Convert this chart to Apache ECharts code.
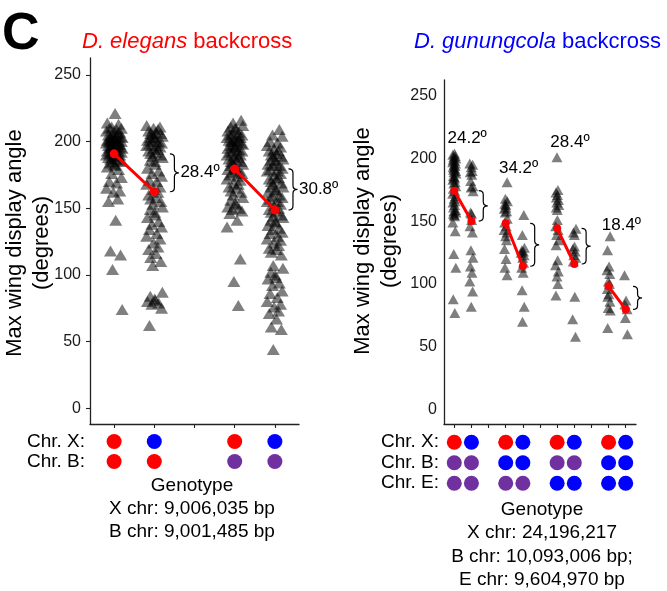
<!DOCTYPE html>
<html>
<head>
<meta charset="utf-8">
<script src="https://cdn.jsdelivr.net/npm/echarts@6/dist/echarts.min.js"></script>
<style>
  html, body { margin: 0; padding: 0; background: #fff; }
  #chart { width: 667px; height: 591px; }
</style>
</head>
<body>
<div id="chart"></div>
<script>
// ---- values ----
// D. elegans backcross: genotype slots 0, 1, 3, 4 (slot 2 is empty)
const elegansGroups = [0, 1, 3, 4];
const elegans0 = [221, 214, 213, 211, 210, 210, 209, 208, 207, 207, 206, 205, 205, 204, 204, 203, 203, 202, 202, 202,
  201, 201, 200, 200, 200, 199, 199, 198, 198, 198, 197, 197, 196, 196, 196, 195, 195, 194, 194, 193, 193, 192, 192,
  191, 191, 190, 190, 189, 189, 188, 187, 187, 186, 185, 185, 184, 183, 182, 181, 179, 176, 173, 170, 169, 165, 163,
  162, 157, 155, 141, 118, 115, 104, 74];
const elegans1 = [212, 211, 210, 209, 208, 207, 206, 206, 205, 204, 203, 203, 202, 201, 200, 200, 199, 198, 197, 197,
  196, 195, 194, 193, 192, 191, 190, 189, 188, 186, 185, 183, 180, 178, 176, 174, 171, 170, 168, 166, 164, 162, 160,
  158, 157, 155, 153, 151, 149, 147, 145, 143, 140, 138, 136, 134, 131, 129, 127, 124, 121, 119, 116, 113, 110, 107,
  87, 84, 82, 81, 80, 79, 78, 75, 62];
const elegans3 = [216, 214, 212, 211, 210, 209, 208, 207, 206, 205, 205, 204, 203, 203, 202, 201, 201, 200, 200, 199,
  198, 198, 197, 196, 196, 195, 194, 193, 193, 192, 191, 190, 190, 189, 188, 187, 186, 185, 185, 184, 183, 182, 181,
  180, 179, 178, 177, 176, 175, 174, 172, 171, 169, 168, 166, 165, 163, 162, 160, 158, 156, 154, 153, 151, 150, 149,
  148, 146, 141, 136, 112, 95, 77];
const elegans4 = [209, 205, 204, 200, 199, 197, 196, 194, 193, 193, 191, 190, 189, 189, 187, 186, 186, 184, 183, 182,
  182, 180, 179, 178, 178, 176, 175, 173, 172, 172, 170, 169, 168, 166, 166, 164, 163, 162, 160, 159, 158, 157, 155,
  155, 153, 152, 150, 149, 148, 147, 145, 144, 143, 141, 140, 139, 137, 135, 134, 132, 131, 129, 127, 126, 124, 122,
  120, 119, 117, 115, 107, 105, 102, 100, 98, 97, 94, 92, 88, 86, 83, 80, 78, 76, 73, 71, 67, 61, 59, 44];
const elegansMeans = [190.8, 162.4, 179.5, 148.7];
const elegansDiffs = ['28.4º', '30.8º'];
// genotype codes: E = elegans (red), G = gunungcola (blue), H = heterozygous (purple)
const elegansChrX = ['E', 'G', 'E', 'G'];
const elegansChrB = ['E', 'E', 'H', 'H'];

// D. gunungcola backcross: slots 0,1 3,4 6,7 9,10
const gunungGroups = [0, 1, 3, 4, 6, 7, 9, 10];
const gunung0 = [204, 203, 202, 201, 200, 199, 198, 197, 196, 195, 194, 193, 192, 191, 190, 189, 188, 186, 185, 184,
  183, 181, 180, 178, 176, 174, 172, 170, 168, 166, 165, 163, 161, 159, 158, 157, 156, 155, 154, 149, 142, 124, 113, 88, 77];
const gunung1 = [196, 195, 193, 190, 189, 187, 182, 178, 177, 174, 157, 156, 151, 146, 141, 127, 121, 114, 109, 102, 94, 82];
const gunung3 = [181, 168, 166, 164, 163, 161, 160, 158, 157, 152, 149, 146, 143, 141, 138, 135, 128, 120, 113, 107];
const gunung4 = [155, 139, 129, 127, 126, 125, 123, 121, 117, 113, 109, 95, 82, 70];
const gunung6 = [201, 175, 173, 171, 169, 167, 165, 163, 161, 159, 151, 146, 143, 139, 135, 131, 119, 115, 110, 106, 100, 91];
const gunung7 = [144, 141, 139, 130, 128, 126, 123, 121, 118, 90, 72, 58];
const gunung9 = [138, 127, 114, 111, 108, 102, 100, 96, 92, 90, 86, 81, 79, 65];
const gunung10 = [107, 87, 84, 80, 73, 60];
const gunungMeans = [174.4, 150.2, 148.4, 114.2, 144.4, 116.0, 98.2, 79.8];
const gunungDiffs = ['24.2º', '34.2º', '28.4º', '18.4º'];
const gunungChrX = ['E', 'G', 'E', 'G', 'E', 'G', 'E', 'G'];
const gunungChrB = ['H', 'H', 'G', 'G', 'H', 'H', 'G', 'G'];
const gunungChrE = ['H', 'H', 'H', 'H', 'G', 'G', 'G', 'G'];

const yTicks = [0, 50, 100, 150, 200, 250];

// ---- styling / layout ----
const FONT = 'Liberation Sans, Arial, sans-serif';
const RED = '#ff0000', BLUE = '#0000ff', PURPLE = '#7030a0';
const GENO_COLOR = { E: RED, G: BLUE, H: PURPLE };
// fixed jitter pattern (spread of the points around their slot)
const JITTER = [0.12, -0.85, 0.55, -0.3, 0.9, -0.6, 0.3, -0.95, 0.7, -0.1, 0.45, -0.7, 0.2, -0.45, 0.8, -0.2, 1.0, -0.5, 0.05];
const GUN_LABEL_Y = [216, 192, 212.5, 147];

function jittered(groups, values, width) {
  const out = [];
  groups.forEach((g, gi) => {
    values[gi].forEach((v, i) => {
      out.push([g + width * JITTER[(i + gi * 7) % JITTER.length], v]);
    });
  });
  return out;
}

function genoDots(groups, rows) {
  const out = [];
  rows.forEach((row, r) => row.forEach((code, i) => out.push([groups[i], r, code])));
  return out;
}

function braceRender(labels) {
  return function (params, api) {
    const a = api.coord([api.value(0), api.value(1)]);
    const b = api.coord([api.value(0), api.value(2)]);
    const px = a[0];
    const y1 = Math.min(a[1], b[1]), y2 = Math.max(a[1], b[1]);
    const ym = (y1 + y2) / 2, r = 4, hook = 4.5, tip = 4.5;
    const d = `M${px - hook} ${y1} Q${px} ${y1} ${px} ${y1 + r} L${px} ${ym - r} Q${px} ${ym} ${px + tip} ${ym} ` +
      `Q${px} ${ym} ${px} ${ym + r} L${px} ${y2 - r} Q${px} ${y2} ${px - hook} ${y2}`;
    const children = [{
      type: 'path',
      shape: { pathData: d },
      style: { stroke: '#000', fill: null, lineWidth: 1.2 }
    }];
    if (labels) {
      children.push({
        type: 'text', x: px + tip + 1.5, y: ym,
        style: { text: labels[params.dataIndex], fontSize: 17, fontFamily: FONT, fill: '#000', align: 'left', verticalAlign: 'middle' }
      });
    }
    return { type: 'group', children: children };
  };
}

const elegansPts = jittered(elegansGroups, [elegans0, elegans1, elegans3, elegans4], 0.2);
const gunungPts = jittered(gunungGroups, [gunung0, gunung1, gunung3, gunung4, gunung6, gunung7, gunung9, gunung10], 0.1);

const series = [
  {
    type: 'scatter', xAxisIndex: 0, yAxisIndex: 0, data: elegansPts,
    symbol: 'triangle', symbolSize: [13, 11], itemStyle: { color: 'rgba(0,0,0,0.5)', opacity: 1 }, z: 2
  },
  {
    type: 'scatter', xAxisIndex: 1, yAxisIndex: 1, data: gunungPts,
    symbol: 'triangle', symbolSize: [11, 10], itemStyle: { color: 'rgba(0,0,0,0.5)', opacity: 1 }, z: 2
  }
];

// mean lines
for (let k = 0; k < elegansMeans.length; k += 2) {
  series.push({
    type: 'line', xAxisIndex: 0, yAxisIndex: 0, z: 5,
    data: [[elegansGroups[k], elegansMeans[k]], [elegansGroups[k + 1], elegansMeans[k + 1]]],
    symbol: 'circle', symbolSize: 9, lineStyle: { color: RED, width: 3 }, itemStyle: { color: RED }
  });
}
for (let k = 0; k < gunungMeans.length; k += 2) {
  series.push({
    type: 'line', xAxisIndex: 1, yAxisIndex: 1, z: 5,
    data: [[gunungGroups[k], gunungMeans[k]], [gunungGroups[k + 1], gunungMeans[k + 1]]],
    symbol: 'circle', symbolSize: 8, lineStyle: { color: RED, width: 3 }, itemStyle: { color: RED }
  });
}

// braces between means
const elegansBraces = [];
for (let k = 0; k < elegansMeans.length; k += 2) {
  elegansBraces.push([elegansGroups[k + 1] + (k === 0 ? 0.5 : 0.45), elegansMeans[k], elegansMeans[k + 1]]);
}
const gunungBraces = [];
const gunungLabels = [];
for (let k = 0; k < gunungMeans.length; k += 2) {
  gunungBraces.push([gunungGroups[k + 1] + 0.69, gunungMeans[k], gunungMeans[k + 1]]);
  gunungLabels.push([(gunungGroups[k] + gunungGroups[k + 1]) / 2 + 0.25, GUN_LABEL_Y[k / 2]]);
}
series.push({
  type: 'custom', xAxisIndex: 0, yAxisIndex: 0, clip: false, z: 6,
  data: elegansBraces, encode: { x: 0, y: [1, 2] }, renderItem: braceRender(elegansDiffs)
});
series.push({
  type: 'custom', xAxisIndex: 1, yAxisIndex: 1, clip: false, z: 6,
  data: gunungBraces, encode: { x: 0, y: [1, 2] }, renderItem: braceRender(null)
});
series.push({
  type: 'custom', xAxisIndex: 1, yAxisIndex: 1, clip: false, z: 6,
  data: gunungLabels, encode: { x: 0, y: 1 },
  renderItem: function (params, api) {
    const p = api.coord([api.value(0), api.value(1)]);
    return {
      type: 'text', x: p[0], y: p[1],
      style: { text: gunungDiffs[params.dataIndex], fontSize: 17, fontFamily: FONT, fill: '#000', align: 'center', verticalAlign: 'middle' }
    };
  }
});

// genotype dot rows
const dotStyle = { color: function (p) { return GENO_COLOR[p.data[2]]; }, opacity: 1 };
series.push({
  type: 'scatter', xAxisIndex: 2, yAxisIndex: 2, symbolSize: 15, itemStyle: dotStyle,
  data: genoDots(elegansGroups, [elegansChrX, elegansChrB])
});
series.push({
  type: 'scatter', xAxisIndex: 3, yAxisIndex: 3, symbolSize: 15, itemStyle: dotStyle,
  data: genoDots(gunungGroups, [gunungChrX, gunungChrB, gunungChrE])
});

const axisLine = { show: true, onZero: false, lineStyle: { color: '#222', width: 1.3 } };

function valueX(gridIndex, max, ticks) {
  return {
    type: 'value', gridIndex: gridIndex, min: -0.6, max: max,
    axisLine: axisLine,
    axisTick: { show: true, length: 4, customValues: ticks, lineStyle: { color: '#222', width: 1.1 } },
    axisLabel: { show: false }, splitLine: { show: false }
  };
}
function valueY(gridIndex, min, max, showTick, margin) {
  return {
    type: 'value', gridIndex: gridIndex, min: min, max: max,
    axisLine: axisLine,
    axisTick: { show: showTick, length: 4, customValues: yTicks, lineStyle: { color: '#222', width: 1.1 } },
    axisLabel: { customValues: yTicks, fontSize: 16, fontFamily: FONT, color: '#1a1a1a', margin: margin },
    splitLine: { show: false }
  };
}
function dotX(gridIndex, max) {
  return { type: 'value', gridIndex: gridIndex, min: -0.6, max: max, show: false };
}
function dotY(gridIndex, rows) {
  return {
    type: 'category', gridIndex: gridIndex, data: rows, inverse: true,
    axisLine: { show: false }, axisTick: { show: false },
    axisLabel: { interval: 0, fontSize: 19, fontFamily: FONT, color: '#000', margin: 5 }
  };
}

const option = {
  animation: false,
  backgroundColor: '#fff',
  grid: [
    { left: 90, top: 58, width: 209, height: 366 },
    { left: 444, top: 80, width: 192, height: 344 },
    { left: 90, top: 431.5, width: 209, height: 40 },
    { left: 444, top: 432, width: 192, height: 61.5 }
  ],
  xAxis: [
    valueX(0, 4.6, [0, 1, 2, 3, 4]),
    valueX(1, 10.6, [0, 1, 2, 3, 4, 5, 6, 7, 8, 9, 10]),
    dotX(2, 4.6),
    dotX(3, 10.6)
  ],
  yAxis: [
    valueY(0, -11.8, 262.7, true, 9),
    valueY(1, -11.4, 262.5, false, 7),
    dotY(2, ['Chr. X:', 'Chr. B:']),
    dotY(3, ['Chr. X:', 'Chr. B:', 'Chr. E:'])
  ],
  graphic: [
    { type: 'text', x: 2, y: 35, style: { text: 'C', fontSize: 52, fontWeight: 'bold', fontFamily: FONT, fill: '#000', verticalAlign: 'middle' } },
    {
      type: 'text', x: 82, y: 41.5,
      style: {
        text: '{i|D. elegans} backcross', fontSize: 22, fontFamily: FONT, fill: RED, verticalAlign: 'middle',
        rich: { i: { fontStyle: 'italic', fontSize: 22, fontFamily: FONT, fill: RED } }
      }
    },
    {
      type: 'text', x: 414, y: 41.5,
      style: {
        text: '{i|D. gunungcola} backcross', fontSize: 22, fontFamily: FONT, fill: BLUE, verticalAlign: 'middle',
        rich: { i: { fontStyle: 'italic', fontSize: 22, fontFamily: FONT, fill: BLUE } }
      }
    },
    {
      type: 'text', x: 28.5, y: 243, rotation: Math.PI / 2,
      style: { text: 'Max wing display angle\n(degrees)', fontSize: 22, lineHeight: 27, fontFamily: FONT, fill: '#000', align: 'center', verticalAlign: 'middle' }
    },
    {
      type: 'text', x: 376.5, y: 241, rotation: Math.PI / 2,
      style: { text: 'Max wing display angle\n(degrees)', fontSize: 22, lineHeight: 27, fontFamily: FONT, fill: '#000', align: 'center', verticalAlign: 'middle' }
    },
    {
      type: 'text', x: 192, y: 508.5,
      style: { text: 'Genotype\nX chr: 9,006,035 bp\nB chr: 9,001,485 bp', fontSize: 19, lineHeight: 23, fontFamily: FONT, fill: '#000', align: 'center', verticalAlign: 'middle' }
    },
    {
      type: 'text', x: 542, y: 544.6,
      style: { text: 'Genotype\nX chr: 24,196,217\nB chr: 10,093,006 bp;\nE chr: 9,604,970 bp', fontSize: 19, lineHeight: 23.5, fontFamily: FONT, fill: '#000', align: 'center', verticalAlign: 'middle' }
    }
  ],
  series: series
};

const chart = echarts.init(document.getElementById('chart'));
chart.setOption(option);
</script>
</body>
</html>
